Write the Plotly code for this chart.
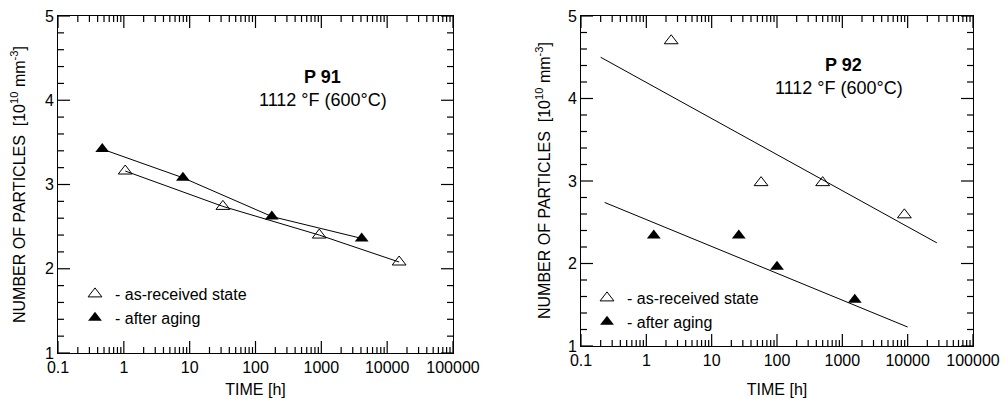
import math
import plotly.graph_objects as go

# ---- data: P 91 (left panel) ----
p91_recv_t = [1.05, 32, 930, 15200]
p91_recv_n = [3.16, 2.74, 2.40, 2.08]
p91_aged_t = [0.47, 7.9, 177, 4100]
p91_aged_n = [3.42, 3.08, 2.62, 2.36]

# ---- data: P 92 (right panel) ----
p92_recv_t = [2.4, 57, 500, 8900]
p92_recv_n = [4.70, 2.98, 2.98, 2.59]
p92_aged_t = [1.3, 26, 100, 1550]
p92_aged_n = [2.34, 2.34, 1.96, 1.56]
# fitted trend lines (end points)
p92_recv_fit_t = [0.2, 28000]
p92_recv_fit_n = [4.50, 2.25]
p92_aged_fit_t = [0.23, 10000]
p92_aged_fit_n = [2.74, 1.23]

x_tickvals = [0.1, 1, 10, 100, 1000, 10000, 100000]
x_ticktext = ["0.1", "1", "10", "100", "1000", "10000", "100000"]
y_tickvals = [1, 2, 3, 4, 5]

FONT = "Liberation Sans, Arial, sans-serif"
W, H = 1007, 398
X_RANGE = [-1, 5]      # log10 range
Y_RANGE = [1, 5]

fig = go.Figure()

def add_panel(xa, ya, legend, recv_t, recv_n, aged_t, aged_n, line_recv, line_aged):
    lt, ln = line_recv
    fig.add_trace(go.Scatter(x=lt, y=ln, mode="lines", line=dict(color="black", width=1),
                             xaxis=xa, yaxis=ya, showlegend=False, hoverinfo="skip"))
    lt, ln = line_aged
    fig.add_trace(go.Scatter(x=lt, y=ln, mode="lines", line=dict(color="black", width=1),
                             xaxis=xa, yaxis=ya, showlegend=False, hoverinfo="skip"))
    fig.add_trace(go.Scatter(x=recv_t, y=recv_n, mode="markers", name="- as-received state",
                             marker=dict(symbol="triangle-up-open", size=12, color="black",
                                         line=dict(width=1)),
                             xaxis=xa, yaxis=ya, legend=legend))
    fig.add_trace(go.Scatter(x=aged_t, y=aged_n, mode="markers", name="- after aging",
                             marker=dict(symbol="triangle-up", size=12, color="black"),
                             xaxis=xa, yaxis=ya, legend=legend))

add_panel("x", "y", "legend", p91_recv_t, p91_recv_n, p91_aged_t, p91_aged_n,
          (p91_recv_t, p91_recv_n), (p91_aged_t, p91_aged_n))
add_panel("x2", "y2", "legend2", p92_recv_t, p92_recv_n, p92_aged_t, p92_aged_n,
          (p92_recv_fit_t, p92_recv_fit_n), (p92_aged_fit_t, p92_aged_fit_n))

def xaxis(domain, anchor):
    return dict(domain=domain, anchor=anchor, type="log", range=X_RANGE, automargin=False,
                tickmode="array", tickvals=x_tickvals, ticktext=x_ticktext, ticks="",
                showline=True, linecolor="black", linewidth=1, mirror=True,
                showgrid=False, zeroline=False,
                tickfont=dict(family=FONT, size=16, color="black"),
                title=dict(text="TIME [h]", font=dict(family=FONT, size=16, color="black")))

def yaxis(domain, anchor):
    return dict(domain=domain, anchor=anchor, range=Y_RANGE, automargin=False,
                tickmode="array", tickvals=y_tickvals, ticks="",
                showline=True, linecolor="black", linewidth=1, mirror=True,
                showgrid=False, zeroline=False,
                tickfont=dict(family=FONT, size=16, color="black"))

L_x = [58 / W, 453 / W]
L_y = [(H - 353) / H, (H - 16) / H]
R_x = [581 / W, 973 / W]
R_y = [(H - 346) / H, (H - 16) / H]

# ---- inside tick marks (major + minor, mirrored on all four sides) ----
MAJ, MIN = 12, 6   # px

def tick_shapes(xname, yname, xdom, ydom):
    wpx = (xdom[1] - xdom[0]) * W
    hpx = (ydom[1] - ydom[0]) * H
    xr, yr = f"{xname} domain", f"{yname} domain"
    shapes = []
    xmaj = [(math.log10(v) - X_RANGE[0]) / (X_RANGE[1] - X_RANGE[0]) for v in x_tickvals]
    xmin = [(math.log10(k * 10 ** d) - X_RANGE[0]) / (X_RANGE[1] - X_RANGE[0])
            for d in range(X_RANGE[0], X_RANGE[1]) for k in range(2, 10)]
    for fr_list, ln in ((xmaj, MAJ), (xmin, MIN)):
        L = ln / hpx
        for f in fr_list:
            shapes.append(dict(type="line", xref=xr, yref=yr, x0=f, x1=f, y0=0, y1=L))
            shapes.append(dict(type="line", xref=xr, yref=yr, x0=f, x1=f, y0=1, y1=1 - L))
    ymaj = [(v - Y_RANGE[0]) / (Y_RANGE[1] - Y_RANGE[0]) for v in y_tickvals]
    ymin = [(0.2 * i) / (Y_RANGE[1] - Y_RANGE[0]) for i in range(1, 20) if i % 5 != 0]
    for fr_list, ln in ((ymaj, MAJ), (ymin, MIN)):
        L = ln / wpx
        for f in fr_list:
            shapes.append(dict(type="line", xref=xr, yref=yr, y0=f, y1=f, x0=0, x1=L))
            shapes.append(dict(type="line", xref=xr, yref=yr, y0=f, y1=f, x0=1, x1=1 - L))
    for s in shapes:
        s["line"] = dict(color="black", width=1.2)
        s["layer"] = "above"
    return shapes

shapes = tick_shapes("x", "y", L_x, L_y) + tick_shapes("x2", "y2", R_x, R_y)

YTITLE = "NUMBER OF PARTICLES  [10<sup>10</sup> mm<sup>-3</sup>]"

def ann(text, x, y, size, angle=0):
    return dict(text=text, x=x / W, y=(H - y) / H, xref="paper", yref="paper",
                xanchor="center", yanchor="middle", textangle=angle, showarrow=False,
                font=dict(family=FONT, size=size, color="black"))

leg_font = dict(family=FONT, size=16, color="black")
fig.update_layout(
    width=W, height=H,
    margin=dict(l=0, r=0, t=0, b=0),
    paper_bgcolor="white", plot_bgcolor="white",
    xaxis=xaxis(L_x, "y"), yaxis=yaxis(L_y, "x"),
    xaxis2=xaxis(R_x, "y2"), yaxis2=yaxis(R_y, "x2"),
    shapes=shapes,
    legend=dict(x=(97 - 22) / W, y=(H - 277) / H, xanchor="left", yanchor="top",
                bgcolor="rgba(0,0,0,0)", font=leg_font, itemwidth=30, tracegroupgap=0),
    legend2=dict(x=(609 - 22) / W, y=(H - 281) / H, xanchor="left", yanchor="top",
                 bgcolor="rgba(0,0,0,0)", font=leg_font, itemwidth=30, tracegroupgap=0),
    annotations=[
        ann("<b>P 91</b>", 322, 77, 18),
        ann("1112 °F (600°C)", 323, 100, 18),
        ann("<b>P 92</b>", 843, 65, 18),
        ann("1112 °F (600°C)", 839, 88, 18),
        ann(YTITLE, 18, 185, 16, -90),
        ann(YTITLE, 543, 181, 16, -90),
    ],
)

fig.write_html("out.html", config={"displayModeBar": False},
               post_script="document.body.style.margin='0px';")
